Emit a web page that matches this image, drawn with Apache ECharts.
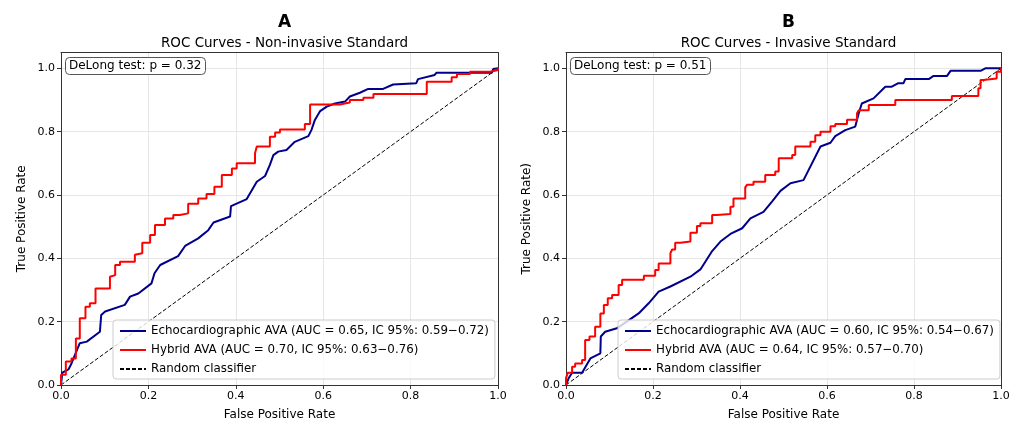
<!DOCTYPE html>
<html><head><meta charset="utf-8">
<script src="https://cdn.jsdelivr.net/npm/echarts@6/dist/echarts.min.js"></script>
<style>html,body{margin:0;padding:0;background:#fff}#c{width:1021px;height:423px}</style>
</head><body><div id="c"></div>
<script>
const xTicks = [0, 0.2, 0.4, 0.6, 0.8, 1.0];
const panelLetters = ['A', 'B'];
const panelTitles = ['ROC Curves - Non-invasive Standard', 'ROC Curves - Invasive Standard'];
const yAxisNames = ['True Positive Rate', 'True Positive Rate)'];
const delongTexts = ['DeLong test: p = 0.32', 'DeLong test: p = 0.51'];
const echoNames = ['Echocardiographic AVA (AUC = 0.65, IC 95%: 0.59\u22120.72)', 'Echocardiographic AVA (AUC = 0.60, IC 95%: 0.54\u22120.67)'];
const hybridNames = ['Hybrid AVA (AUC = 0.70, IC 95%: 0.63\u22120.76)', 'Hybrid AVA (AUC = 0.64, IC 95%: 0.57\u22120.70)'];
const randomName = 'Random classifier';
const diagonal = [[0, 0], [1, 1]];

const echoNonInvasive = [[0,0],[0.003,0.039],[0.017,0.049],[0.024,0.068],[0.043,0.132],[0.059,0.137],[0.089,0.168],[0.092,0.221],[0.101,0.232],[0.146,0.253],[0.158,0.279],[0.177,0.289],[0.207,0.321],[0.214,0.353],[0.227,0.379],[0.268,0.407],[0.284,0.439],[0.314,0.463],[0.337,0.489],[0.349,0.513],[0.387,0.532],[0.389,0.565],[0.425,0.587],[0.448,0.642],[0.467,0.66],[0.478,0.695],[0.486,0.726],[0.497,0.737],[0.516,0.742],[0.535,0.768],[0.566,0.786],[0.573,0.805],[0.581,0.837],[0.593,0.865],[0.608,0.879],[0.627,0.889],[0.65,0.895],[0.661,0.911],[0.684,0.923],[0.703,0.935],[0.737,0.935],[0.76,0.949],[0.813,0.953],[0.817,0.966],[0.855,0.979],[0.859,0.986],[0.986,0.986],[0.989,0.998],[1,1]];

const hybridNonInvasive = [[0,0],[0.002,0.032],[0.011,0.032],[0.011,0.074],[0.024,0.074],[0.024,0.084],[0.034,0.084],[0.034,0.147],[0.043,0.147],[0.046,0.211],[0.056,0.211],[0.056,0.247],[0.066,0.247],[0.069,0.258],[0.079,0.258],[0.079,0.295],[0.089,0.305],[0.112,0.305],[0.112,0.342],[0.124,0.347],[0.135,0.379],[0.146,0.389],[0.169,0.389],[0.169,0.411],[0.186,0.416],[0.204,0.449],[0.215,0.474],[0.238,0.505],[0.257,0.526],[0.272,0.537],[0.291,0.542],[0.314,0.572],[0.333,0.589],[0.351,0.603],[0.368,0.626],[0.391,0.663],[0.402,0.684],[0.417,0.7],[0.444,0.7],[0.448,0.732],[0.459,0.753],[0.478,0.753],[0.49,0.784],[0.501,0.797],[0.524,0.807],[0.558,0.807],[0.562,0.824],[0.57,0.824],[0.57,0.886],[0.638,0.886],[0.661,0.892],[0.692,0.9],[0.715,0.907],[0.761,0.919],[0.837,0.919],[0.837,0.947],[0.894,0.958],[0.906,0.972],[0.936,0.982],[0.982,0.989],[1,0.995],[1,1]];

const echoInvasive = [[0,0],[0.006,0.021],[0.014,0.039],[0.037,0.039],[0.056,0.084],[0.079,0.1],[0.08,0.153],[0.09,0.168],[0.117,0.179],[0.167,0.226],[0.19,0.258],[0.213,0.295],[0.24,0.311],[0.286,0.342],[0.309,0.365],[0.336,0.423],[0.355,0.453],[0.378,0.477],[0.405,0.495],[0.424,0.526],[0.454,0.547],[0.474,0.58],[0.493,0.613],[0.516,0.637],[0.546,0.647],[0.585,0.753],[0.608,0.765],[0.619,0.786],[0.642,0.805],[0.665,0.816],[0.673,0.858],[0.68,0.889],[0.707,0.905],[0.734,0.942],[0.749,0.942],[0.764,0.953],[0.776,0.953],[0.78,0.966],[0.834,0.966],[0.845,0.976],[0.876,0.976],[0.884,0.992],[0.953,0.992],[0.964,1],[1,1]];

const hybridInvasive = [[0,0],[0.004,0.021],[0.014,0.039],[0.021,0.058],[0.037,0.068],[0.044,0.079],[0.054,0.142],[0.067,0.153],[0.079,0.184],[0.087,0.226],[0.096,0.253],[0.106,0.274],[0.121,0.284],[0.129,0.316],[0.136,0.332],[0.179,0.332],[0.179,0.345],[0.205,0.345],[0.213,0.363],[0.221,0.384],[0.24,0.384],[0.244,0.416],[0.251,0.428],[0.263,0.449],[0.286,0.453],[0.301,0.481],[0.309,0.502],[0.336,0.511],[0.347,0.537],[0.378,0.54],[0.385,0.563],[0.393,0.589],[0.412,0.589],[0.416,0.624],[0.431,0.632],[0.458,0.642],[0.481,0.663],[0.489,0.674],[0.489,0.716],[0.52,0.716],[0.527,0.726],[0.535,0.753],[0.562,0.753],[0.573,0.768],[0.585,0.789],[0.608,0.8],[0.619,0.817],[0.646,0.824],[0.654,0.838],[0.669,0.838],[0.673,0.858],[0.696,0.868],[0.707,0.884],[0.757,0.884],[0.761,0.9],[0.887,0.9],[0.891,0.913],[0.948,0.913],[0.953,0.937],[0.959,0.963],[0.99,0.968],[1,0.989],[1,1]];

const echoData = [echoNonInvasive, echoInvasive];
const hybridData = [hybridNonInvasive, hybridInvasive];

const FONT = 'DejaVu Sans';
const FRAME = '#333';
const grids = [
  {left: 61, right: 523, top: 52.5, bottom: 38, outerBoundsMode: 'none', containLabel: false},
  {left: 566, right: 20, top: 52.5, bottom: 38, outerBoundsMode: 'none', containLabel: false}
];
const centers = [279.5, 783.5];

const option = {
  animation: false,
  backgroundColor: '#fff',
  textStyle: {fontFamily: FONT},
  grid: grids,
  title: [],
  legend: [],
  xAxis: [],
  yAxis: [],
  series: []
};

for (let i = 0; i < 2; i++) {
  option.title.push({text: panelLetters[i], left: centers[i], top: 9, textAlign: 'center',
    textStyle: {fontFamily: FONT, fontSize: 17, fontWeight: 'bold', color: '#000'}});
  option.title.push({text: panelTitles[i], left: centers[i], top: 31, textAlign: 'center',
    textStyle: {fontFamily: FONT, fontSize: 13.5, fontWeight: 'normal', color: '#000'}});
  option.title.push({text: delongTexts[i], left: grids[i].left + 4, top: 57, padding: [3, 4],
    borderColor: '#555', borderWidth: 1, borderRadius: 4, backgroundColor: '#fff',
    textStyle: {fontFamily: FONT, fontSize: 12, fontWeight: 'normal', color: '#000'}});
  option.xAxis.push({type: 'value', gridIndex: i, min: 0, max: 1, interval: 0.2, position: 'bottom',
    name: 'False Positive Rate', nameLocation: 'middle', nameGap: 24,
    nameTextStyle: {fontFamily: FONT, fontSize: 12, color: '#000'},
    axisLine: {show: true, onZero: false, lineStyle: {color: FRAME, width: 1}},
    axisTick: {show: true, length: 4, lineStyle: {color: FRAME}},
    axisLabel: {fontFamily: FONT, fontSize: 11, color: '#000', margin: 6, formatter: v => v.toFixed(1)},
    splitLine: {show: true, lineStyle: {color: '#e6e6e6', width: 1}}});
  option.yAxis.push({type: 'value', gridIndex: i, min: 0, max: 1.05, interval: 0.2, position: 'left',
    name: yAxisNames[i], nameLocation: 'middle', nameGap: 33,
    nameTextStyle: {fontFamily: FONT, fontSize: 12, color: '#000'},
    axisLine: {show: true, onZero: false, lineStyle: {color: FRAME, width: 1}},
    axisTick: {show: true, length: 4, lineStyle: {color: FRAME}},
    axisLabel: {fontFamily: FONT, fontSize: 11, color: '#000', margin: 6, showMaxLabel: false,
      formatter: v => (Math.abs(v * 5 - Math.round(v * 5)) < 1e-6 ? v.toFixed(1) : '')},
    splitLine: {show: true, lineStyle: {color: '#e6e6e6', width: 1}}});
  option.series.push({name: echoNames[i], type: 'line', xAxisIndex: i, yAxisIndex: i, data: echoData[i],
    showSymbol: false, symbol: 'none', lineStyle: {color: '#00008B', width: 2}, itemStyle: {color: '#00008B'}, z: 3});
  option.series.push({name: hybridNames[i], type: 'line', xAxisIndex: i, yAxisIndex: i, data: hybridData[i],
    step: 'start', showSymbol: false, symbol: 'none', lineStyle: {color: '#FF0000', width: 2}, itemStyle: {color: '#FF0000'}, z: 4});
  option.series.push({name: randomName + (i ? ' ' : ''), type: 'line', xAxisIndex: i, yAxisIndex: i, data: diagonal,
    showSymbol: false, symbol: 'none', lineStyle: {color: '#000', width: 1, type: [4, 2]}, itemStyle: {color: '#000'}, z: 2});
  option.legend.push({orient: 'vertical', left: grids[i].left + 52, top: 320, selectedMode: false,
    data: [echoNames[i], hybridNames[i], randomName + (i ? ' ' : '')],
    formatter: n => n.trim(),
    itemWidth: 26, itemHeight: 12, itemGap: 7, padding: [5, 6, 4, 6],
    itemStyle: {opacity: 0},
    borderColor: '#ccc', borderWidth: 1, borderRadius: 3, backgroundColor: 'rgba(255,255,255,0.8)',
    textStyle: {fontFamily: FONT, fontSize: 11.85, color: '#000'}});
}
// frame axes (top and right edges)
for (let i = 0; i < 2; i++) {
  option.xAxis.push({type: 'value', gridIndex: i, min: 0, max: 1, position: 'top',
    axisLine: {show: true, onZero: false, lineStyle: {color: FRAME, width: 1}},
    axisTick: {show: false}, axisLabel: {show: false}, splitLine: {show: false}});
  option.yAxis.push({type: 'value', gridIndex: i, min: 0, max: 1.05, position: 'right',
    axisLine: {show: true, onZero: false, lineStyle: {color: FRAME, width: 1}},
    axisTick: {show: false}, axisLabel: {show: false}, splitLine: {show: false}});
}

const chart = echarts.init(document.getElementById('c'), null, {renderer: 'canvas'});
chart.setOption(option);
</script>
</body></html>
